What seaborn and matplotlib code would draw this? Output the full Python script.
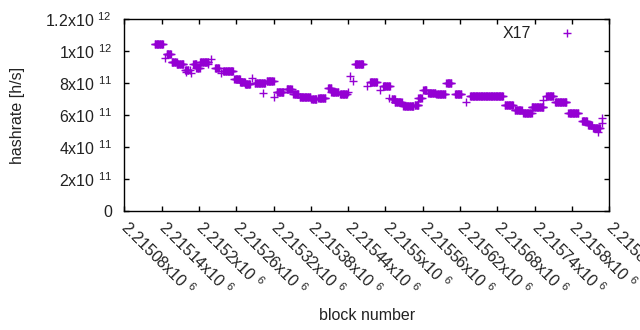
import numpy as np
import pandas as pd
import matplotlib
matplotlib.use("Agg")
import matplotlib.pyplot as plt
import seaborn as sns

# ---- data ----
# runs of consecutive blocks sharing the same hashrate estimate
run_start = [2215129, 2215145, 2215148, 2215156, 2215164, 2215178, 2215179, 2215188,
             2215186, 2215191, 2215196, 2215202, 2215215, 2215219, 2215226, 2215235,
             2215239, 2215257, 2215266, 2215274, 2215285, 2215290, 2215303, 2215309,
             2215321, 2215325, 2215341, 2215352, 2215362, 2215381, 2215392, 2215408,
             2215413, 2215427, 2215440, 2215443, 2215448, 2215451, 2215470, 2215475,
             2215491, 2215496, 2215506, 2215510, 2215515, 2215529, 2215547, 2215553,
             2215561, 2215569, 2215582, 2215598, 2215612, 2215629, 2215636, 2215692,
             2215708, 2215722, 2215735, 2215754, 2215759, 2215773, 2215794, 2215816,
             2215826, 2215834, 2215842, 2215848, 2215849]
run_end = [2215142, 2215145, 2215155, 2215164, 2215175, 2215183, 2215179, 2215188,
           2215186, 2215196, 2215201, 2215215, 2215215, 2215219, 2215232, 2215235,
           2215255, 2215266, 2215274, 2215282, 2215285, 2215306, 2215303, 2215320,
           2215321, 2215336, 2215349, 2215360, 2215379, 2215389, 2215403, 2215413,
           2215424, 2215438, 2215440, 2215443, 2215448, 2215464, 2215470, 2215486,
           2215491, 2215507, 2215506, 2215515, 2215526, 2215545, 2215553, 2215558,
           2215566, 2215580, 2215596, 2215606, 2215622, 2215629, 2215689, 2215705,
           2215719, 2215735, 2215754, 2215754, 2215770, 2215791, 2215810, 2215824,
           2215832, 2215845, 2215842, 2215848, 2215849]
run_hashrate = [1.043e12, 0.955e12, 0.981e12, 0.930e12, 0.918e12, 0.882e12, 0.871e12, 0.865e12,
                0.882e12, 0.918e12, 0.897e12, 0.930e12, 0.918e12, 0.949e12, 0.893e12, 0.861e12,
                0.874e12, 0.824e12, 0.809e12, 0.792e12, 0.834e12, 0.799e12, 0.736e12, 0.813e12,
                0.715e12, 0.746e12, 0.761e12, 0.730e12, 0.715e12, 0.698e12, 0.707e12, 0.767e12,
                0.746e12, 0.730e12, 0.746e12, 0.845e12, 0.813e12, 0.918e12, 0.782e12, 0.809e12,
                0.757e12, 0.782e12, 0.705e12, 0.700e12, 0.680e12, 0.656e12, 0.663e12, 0.705e12,
                0.757e12, 0.740e12, 0.732e12, 0.799e12, 0.732e12, 0.683e12, 0.721e12, 0.661e12,
                0.629e12, 0.611e12, 0.648e12, 0.694e12, 0.717e12, 0.680e12, 0.611e12, 0.564e12,
                0.537e12, 0.517e12, 0.495e12, 0.548e12, 0.583e12]

series_name = "X17"

x_tick_values = [2215080, 2215140, 2215200, 2215260, 2215320, 2215380, 2215440,
                 2215500, 2215560, 2215620, 2215680, 2215740, 2215800, 2215860]
x_tick_mantissa = ["2.21508", "2.21514", "2.2152", "2.21526", "2.21532", "2.21538", "2.21544",
                   "2.2155", "2.21556", "2.21562", "2.21568", "2.21574", "2.2158", "2.21586"]
y_tick_values = [0, 2e11, 4e11, 6e11, 8e11, 1e12, 1.2e12]
y_tick_text = ["0", "2x10 $^{11}$", "4x10 $^{11}$", "6x10 $^{11}$", "8x10 $^{11}$",
               "1x10 $^{12}$", "1.2x10 $^{12}$"]

# expand runs to one record per block
blocks, rates = [], []
for s, e, v in zip(run_start, run_end, run_hashrate):
    for b in range(s, e + 1):
        blocks.append(b)
        rates.append(v)
df = pd.DataFrame({"block": blocks, "hashrate": rates})

# ---- style ----
sns.set_style("ticks")
plt.rcParams["font.family"] = ["Liberation Sans", "DejaVu Sans"]
plt.rcParams["mathtext.fontset"] = "custom"
plt.rcParams["mathtext.rm"] = "Liberation Sans"
plt.rcParams["mathtext.it"] = "Liberation Sans"
plt.rcParams["mathtext.bf"] = "Liberation Sans"
plt.rcParams["mathtext.default"] = "regular"

FS = 11.5
color = "#9400d3"

fig = plt.figure(figsize=(6.4, 3.3), dpi=100)
ax = fig.add_axes([124.3 / 640, 1 - 210.7 / 330, 485 / 640, 191.4 / 330])

sns.scatterplot(data=df, x="block", y="hashrate", marker="+", s=26,
                color=color, linewidth=1.0, label=series_name, ax=ax, zorder=3)

ax.set_xlim(2215080, 2215860)
ax.set_ylim(0, 1.2e12)

ax.set_xticks(x_tick_values)
ax.set_xticklabels([m + "x10 $^{6}$" for m in x_tick_mantissa],
                   rotation=-45, ha="left", va="center", rotation_mode="anchor",
                   fontsize=FS)
ax.set_yticks(y_tick_values)
ax.set_yticklabels(y_tick_text, fontsize=FS)

for sp in ax.spines.values():
    sp.set_visible(True)
    sp.set_linewidth(1.0)
    sp.set_color("black")

ax.tick_params(axis="both", direction="in", length=3.5, width=1.0,
               top=True, right=True, colors="black")
ax.tick_params(axis="y", pad=9)
ax.tick_params(axis="x", pad=10)
for lbl in ax.get_xticklabels() + ax.get_yticklabels():
    lbl.set_color("#222222")

ax.set_xlabel("block number", fontsize=FS, color="#222222")
ax.set_ylabel("hashrate [h/s]", fontsize=FS, color="#222222")
ax.xaxis.set_label_coords(0.5, -0.51)
ax.yaxis.set_label_coords(-0.205, 0.5)

leg = ax.legend(loc="upper right", frameon=False, markerfirst=False,
                fontsize=FS, handlelength=3.3, handletextpad=0.6,
                borderaxespad=0.0, bbox_to_anchor=(0.98, 1.0))
for t in leg.get_texts():
    t.set_color("#222222")

fig.savefig("out.png", dpi=100)
